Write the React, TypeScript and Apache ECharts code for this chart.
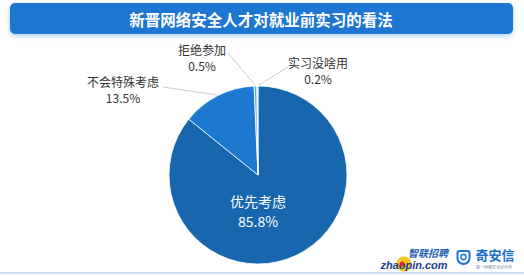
import React, { useEffect, useRef } from "react";
import * as echarts from "echarts";

const categories = ["优先考虑", "不会特殊考虑", "拒绝参加", "实习没啥用"];
const values = [85.8, 13.5, 0.5, 0.2];
const sliceColors = ["#1766ae", "#1c79cf", "#5ea9ec", "#dcebfa"];
const titleText = "新晋网络安全人才对就业前实习的看法";

// label anchor positions (layout only)
const labelPos = [
  { x: 258, y: 211, line: null },
  { x: 123, y: 89, line: [[163, 87], [217, 95]] },
  { x: 202, y: 57, line: [[228, 53], [255, 85]] },
  { x: 318, y: 70, line: [[288, 67], [259, 85]] },
];

export default function App() {
  const ref = useRef<HTMLDivElement>(null);
  useEffect(() => {
    if (!ref.current) return;
    const chart = echarts.init(ref.current, null, { renderer: "svg" });
    const font = "'Noto Sans CJK SC', 'Noto Sans', sans-serif";
    chart.setOption({
      animation: false,
      backgroundColor: "#ffffff",
      graphic: [
        {
          type: "rect",
          shape: { x: 10, y: 3, width: 503, height: 31, r: 5 },
          style: {
            fill: "#1a76d2",
            shadowBlur: 5,
            shadowColor: "rgba(26,118,210,0.35)",
            shadowOffsetY: 2,
          },
          z: 1,
        },
        {
          type: "text",
          x: 261,
          y: 19,
          style: {
            text: titleText,
            fill: "#ffffff",
            font: `bold 15.5px ${font}`,
            align: "center",
            verticalAlign: "middle",
          },
          z: 2,
        },
        {
          type: "rect",
          shape: { x: 0, y: 272, width: 524, height: 2 },
          style: { fill: "#c9def3" },
        },
        // zhaopin logo
        {
          type: "circle",
          shape: { cx: 404, cy: 264, r: 7.5 },
          style: { fill: "#f7c51a" },
        },
        {
          type: "text",
          x: 428,
          y: 252,
          style: {
            text: "智联招聘",
            fill: "#1a5fb4",
            font: `italic bold 10px ${font}`,
            align: "center",
            verticalAlign: "middle",
          },
          z: 3,
        },
        {
          type: "text",
          x: 414,
          y: 264.5,
          style: {
            text: "zhaopin.com",
            fill: "#163f8e",
            font: `italic bold 11px 'Liberation Sans', sans-serif`,
            align: "center",
            verticalAlign: "middle",
          },
          z: 2,
        },
        {
          type: "circle",
          shape: { cx: 402, cy: 264, r: 2.5 },
          style: { fill: "#d9262c" },
          z: 4,
        },
        // qianxin logo
        {
          type: "rect",
          shape: { x: 457.5, y: 251, width: 12, height: 13, r: [2, 2, 6, 6] },
          style: { fill: "none", stroke: "#1a76d2", lineWidth: 2 },
        },
        {
          type: "circle",
          shape: { cx: 463.5, cy: 257, r: 2.6 },
          style: { fill: "none", stroke: "#1a76d2", lineWidth: 1.5 },
        },
        {
          type: "text",
          x: 495,
          y: 254.5,
          style: {
            text: "奇安信",
            fill: "#1a6fc9",
            font: `bold 13px ${font}`,
            align: "center",
            verticalAlign: "middle",
          },
        },
        {
          type: "text",
          x: 494,
          y: 267,
          style: {
            text: "第一网络安全好伙伴",
            fill: "#7a8ba0",
            font: `4px ${font}`,
            align: "center",
            verticalAlign: "middle",
          },
        },
      ],
      series: [
        {
          type: "pie",
          center: [258, 175],
          radius: 89,
          startAngle: 90,
          clockwise: true,
          avoidLabelOverlap: false,
          itemStyle: { borderColor: "#ffffff", borderWidth: 0.8 },
          label: {
            show: true,
            formatter: "{b}\n{c}%",
            fontFamily: font,
            fontSize: 12,
            lineHeight: 16,
            color: "#333333",
            align: "center",
          },
          labelLine: {
            show: true,
            lineStyle: { color: "#cccccc", width: 1 },
          },
          labelLayout: (params: any) => {
            const p = labelPos[params.dataIndex];
            const out: any = {
              x: p.x,
              y: p.y,
              align: "center",
              verticalAlign: "middle",
            };
            if (p.line) out.labelLinePoints = p.line;
            return out;
          },
          data: categories.map((name, i) => ({
            name,
            value: values[i],
            itemStyle: { color: sliceColors[i] },
            label:
              i === 0
                ? { position: "inside", color: "#ffffff", fontSize: 14, lineHeight: 20 }
                : { position: "outside" },
            labelLine: i === 0 ? { show: false } : { show: true },
          })),
        },
      ],
    });
    return () => chart.dispose();
  }, []);
  return (
    <div
      ref={ref}
      style={{ position: "fixed", left: 0, top: 0, width: 524, height: 276 }}
    />
  );
}
